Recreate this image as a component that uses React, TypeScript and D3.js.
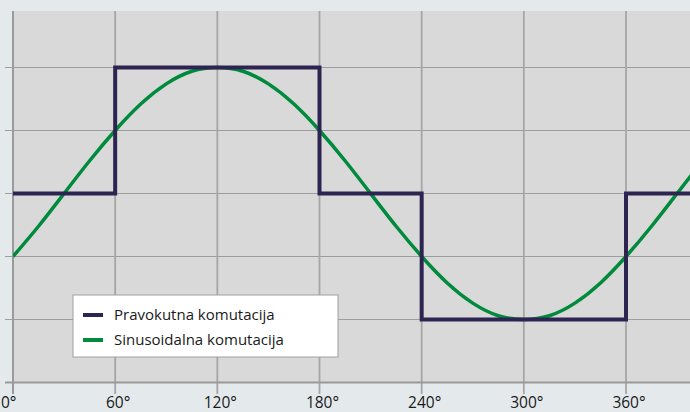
import React, { useRef, useEffect } from 'react';
import * as d3 from 'd3';

// angle ticks (degrees)
const angleTicks = [0, 60, 120, 180, 240, 300, 360];
const levelTicks = [-1.5, -1, -0.5, 0, 0.5, 1];

// square commutation: value from each angle onward
const squareAngles = [0, 60, 180, 240, 360, 400];
const squareValues = [0, 1, 0, -1, 0, 0];

// sinusoidal commutation, read every 15 degrees
const sineAngles = [0, 15, 30, 45, 60, 75, 90, 105, 120, 135, 150, 165, 180, 195, 210, 225, 240, 255, 270, 285, 300, 315, 330, 345, 360, 375, 390, 405];
const sineValues = [-0.5, -0.26, 0, 0.26, 0.5, 0.71, 0.87, 0.97, 1, 0.97, 0.87, 0.71, 0.5, 0.26, 0, -0.26, -0.5, -0.71, -0.87, -0.97, -1, -0.97, -0.87, -0.71, -0.5, -0.26, 0, 0.26];

const seriesNames = ['Pravokutna komutacija', 'Sinusoidalna komutacija'];
const seriesColors = ['#2e2452', '#008a3c'];

const W = 690;
const H = 412;

const App = () => {
  const ref = useRef(null);

  useEffect(() => {
    const left = 13, top = 11, bottom = 383;
    const x = d3.scaleLinear().domain([0, 360]).range([13, 626]);
    const y = d3.scaleLinear().domain([-1, 1]).range([319.5, 67.5]);

    d3.select(ref.current).selectAll('*').remove();
    const svg = d3.select(ref.current)
      .append('svg')
      .attr('width', W)
      .attr('height', H)
      .style('position', 'absolute')
      .style('left', 0)
      .style('top', 0)
      .style('font-family', '"Open Sans", sans-serif');

    svg.append('rect').attr('width', W).attr('height', H).attr('fill', '#e4e9ec');
    svg.append('rect')
      .attr('x', left).attr('y', top)
      .attr('width', W - left).attr('height', bottom - top)
      .attr('fill', '#d9d9d9');

    svg.append('clipPath').attr('id', 'plot')
      .append('rect').attr('x', left).attr('y', top).attr('width', W - left).attr('height', bottom - top);

    // horizontal grid + left ticks
    svg.append('g').selectAll('line')
      .data(levelTicks.filter(d => d > -1.5))
      .enter().append('line')
      .attr('x1', 5).attr('x2', W)
      .attr('y1', d => y(d)).attr('y2', d => y(d))
      .attr('stroke', '#9d9d9d').attr('stroke-width', 1.2);

    // vertical grid + bottom ticks
    svg.append('g').selectAll('line')
      .data(angleTicks.concat([420]))
      .enter().append('line')
      .attr('x1', d => x(d)).attr('x2', d => x(d))
      .attr('y1', top).attr('y2', 394)
      .attr('stroke', '#a6a6a6').attr('stroke-width', 1.8);

    // axes
    svg.append('line')
      .attr('x1', 5).attr('x2', W).attr('y1', y(-1.5)).attr('y2', y(-1.5))
      .attr('stroke', '#9a9a9a').attr('stroke-width', 2);
    svg.append('line')
      .attr('x1', x(0)).attr('x2', x(0)).attr('y1', top).attr('y2', 394)
      .attr('stroke', '#9a9a9a').attr('stroke-width', 2);

    svg.append('g').selectAll('text')
      .data(angleTicks)
      .enter().append('text')
      .attr('x', d => (d === 0 ? 1 : x(d) + 3))
      .attr('y', 407.5)
      .attr('text-anchor', d => (d === 0 ? 'start' : 'middle'))
      .attr('font-size', 15.5)
      .attr('fill', '#1a1a1a')
      .text(d => `${d}°`);

    const plot = svg.append('g').attr('clip-path', 'url(#plot)');

    const sine = d3.line<number>()
      .x((_, i) => x(sineAngles[i]))
      .y(d => y(d))
      .curve(d3.curveNatural);
    plot.append('path')
      .attr('d', sine(sineValues))
      .attr('fill', 'none')
      .attr('stroke', seriesColors[1])
      .attr('stroke-width', 3.5);

    const square = d3.line<number>()
      .x((_, i) => x(squareAngles[i]))
      .y(d => y(d))
      .curve(d3.curveStepAfter);
    plot.append('path')
      .attr('d', square(squareValues))
      .attr('fill', 'none')
      .attr('stroke', seriesColors[0])
      .attr('stroke-width', 4)
      .attr('stroke-linejoin', 'miter');

    // legend
    const lg = svg.append('g').attr('transform', 'translate(73,295)');
    lg.append('rect')
      .attr('width', 265).attr('height', 62)
      .attr('fill', '#ffffff').attr('stroke', '#a0a0a0').attr('stroke-width', 1);
    seriesNames.forEach((name, i) => {
      lg.append('line')
        .attr('x1', 10).attr('x2', 30)
        .attr('y1', 20 + i * 25).attr('y2', 20 + i * 25)
        .attr('stroke', seriesColors[i]).attr('stroke-width', 4);
      lg.append('text')
        .attr('x', 41).attr('y', 20 + i * 25 + 5)
        .attr('font-size', 15)
        .attr('fill', '#1a1a1a')
        .text(name);
    });
  }, []);

  return <div ref={ref} />;
};

export default App;
